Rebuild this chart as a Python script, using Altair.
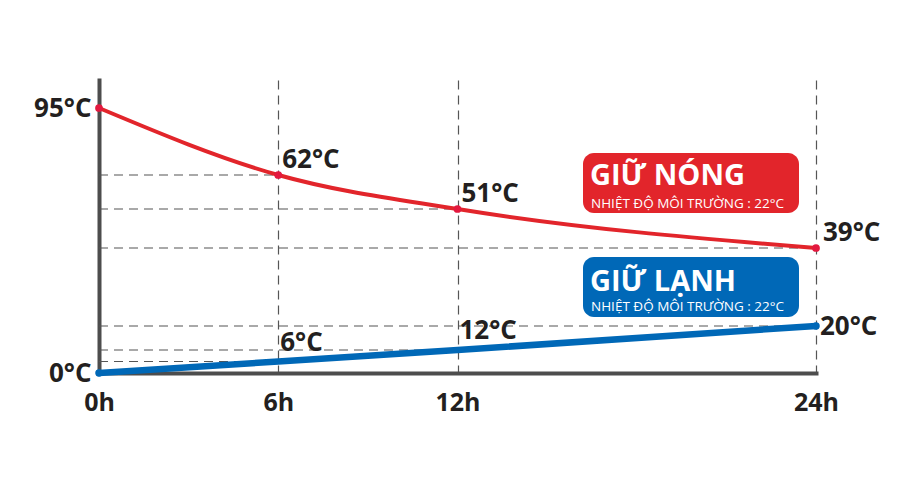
import altair as alt
import pandas as pd

hours = [0, 6, 12, 24]
hour_labels = ["0h", "6h", "12h", "24h"]
hot = [95, 62, 51, 39]
cold = [0, 6, 12, 20]
box_titles = ["GIỮ NÓNG", "GIỮ LẠNH"]
box_subtitle = "NHIỆT ĐỘ MÔI TRƯỜNG : 22°C"

FONT = "Open Sans"
DARK = "#231f20"
RED = "#e2252b"
BLUE = "#0068b7"
GRAY = "#4d4d4d"

df_hot = pd.DataFrame({"hour": hours, "temp": hot, "series": "hot"})
df_cold = pd.DataFrame({"hour": hours, "temp": cold, "series": "cold"})
df_all = pd.concat([df_hot, df_cold], ignore_index=True)

xscale = alt.Scale(domain=[0, 24], nice=False, zero=False)
yscale = alt.Scale(domain=[0, 6, 12, 20, 39, 51, 62, 95, 105],
                   range=[293, 281.5, 270, 246, 168, 129, 95, 28, 0],
                   nice=False, zero=False)

xaxis = alt.Axis(values=hours, labelExpr="datum.value + 'h'", title=None,
                 grid=True, gridDash=[9, 6], gridColor="#555555", gridWidth=1.2,
                 domainColor=GRAY, domainWidth=4, domainCap="square", ticks=False,
                 labelFont=FONT, labelFontSize=25, labelFontWeight="bold",
                 labelColor=DARK, labelPadding=17, labelFlush=False, labelOverlap=False)
yaxis = alt.Axis(values=[0, 95], labelExpr="datum.value + '°C'", title=None,
                 grid=False, ticks=False, domainColor=GRAY, domainWidth=4,
                 domainCap="square", labelFont=FONT, labelFontSize=26,
                 labelFontWeight="bold", labelColor=DARK, labelPadding=8,
                 labelFlush=False, labelOverlap=False)

X = alt.X("hour:Q", scale=xscale, axis=xaxis)
Y = alt.Y("temp:Q", scale=yscale, axis=yaxis)

base = alt.Chart(df_all)

rules = base.transform_filter("datum.hour > 0").transform_calculate(h0="0").mark_rule(
    color="#555555", strokeWidth=1.2, strokeDash=[9, 6]
).encode(x=alt.X("h0:Q", scale=xscale, axis=xaxis), x2="hour:Q", y=Y)

def box(i, color, y0, y1, ty, sy):
    d = pd.DataFrame({"t": [box_titles[i]], "s": [box_subtitle]})
    c = alt.Chart(d)
    r = c.mark_rect(color=color, cornerRadius=11).encode(
        x=alt.value(484), x2=alt.value(700), y=alt.value(y0), y2=alt.value(y1))
    t = c.mark_text(font=FONT, fontWeight="bold", fontSize=29, color="white",
                    align="left", baseline="alphabetic").encode(
        x=alt.value(491), y=alt.value(ty), text="t:N")
    s = c.mark_text(font=FONT, fontSize=13.5, color="white", align="left",
                    baseline="alphabetic").encode(
        x=alt.value(492), y=alt.value(sy), text="s:N")
    return [r, t, s]

hot_line = alt.Chart(df_hot).mark_line(color=RED, strokeWidth=4, interpolate="monotone").encode(x=X, y=Y)
cold_line = alt.Chart(df_cold).mark_line(color=BLUE, strokeWidth=6.5, strokeCap="round").encode(x=X, y=Y)
hot_pts = alt.Chart(df_hot).mark_circle(color="#e3193f", size=60, opacity=1).encode(x=X, y=Y)
cold_pts = alt.Chart(df_cold).transform_filter("datum.hour == 0 || datum.hour == 24").mark_circle(
    color=BLUE, size=55, opacity=1).encode(x=X, y=Y)

def labels(df, cond, dx, dy):
    return alt.Chart(df).transform_filter(cond).transform_calculate(
        lab="datum.temp + '°C'").mark_text(
        font=FONT, fontWeight="bold", fontSize=26, color=DARK, align="left",
        baseline="alphabetic", dx=dx, dy=dy).encode(x=X, y=Y, text="lab:N")

layers = [rules]
layers += box(0, RED, 73, 133, 105, 128)
layers += box(1, BLUE, 177, 237, 211, 231)
layers += [hot_line, cold_line, hot_pts, cold_pts,
           labels(df_hot, "datum.hour == 6 || datum.hour == 12", 4, -7),
           labels(df_hot, "datum.hour == 24", 7, -7),
           labels(df_cold, "datum.hour == 6 || datum.hour == 12", 2, -11),
           labels(df_cold, "datum.hour == 24", 4, 9)]

chart = alt.layer(*layers).properties(
    width=717, height=293,
    autosize=alt.AutoSizeParams(type="none"),
    padding={"left": 91, "top": 72, "right": 94, "bottom": 106},
).configure_view(strokeWidth=0)

chart.save("out.html", embed_options={"renderer": "svg", "actions": False})
